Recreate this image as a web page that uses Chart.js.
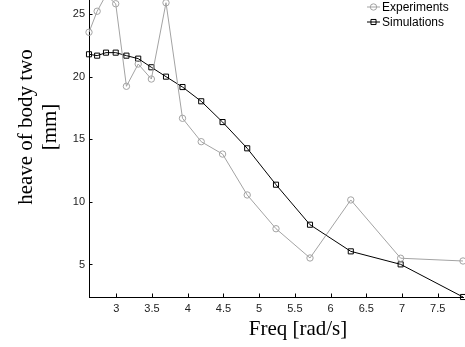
<!DOCTYPE html>
<html>
<head>
<meta charset="utf-8">
<script src="https://cdn.jsdelivr.net/npm/chart.js@4"></script>
<style>
  html, body { margin: 0; padding: 0; background: #fff; }
  #wrap { width: 465px; height: 347px; }
</style>
</head>
<body>
<div id="wrap"><canvas id="heave"></canvas></div>
<script>
// wave frequencies (rad/s)
const freq = [2.618, 2.732, 2.856, 2.992, 3.142, 3.307, 3.491, 3.696, 3.927, 4.189, 4.488, 4.833, 5.236, 5.712, 6.283, 6.981, 7.854];
// heave of body two [mm]
const experiments = [23.57, 25.25, 26.55, 25.85, 19.25, 21.03, 19.83, 25.93, 16.69, 14.82, 13.83, 10.56, 7.86, 5.52, 10.16, 5.50, 5.28];
const simulations = [21.81, 21.70, 21.94, 21.94, 21.70, 21.46, 20.77, 20.02, 19.19, 18.05, 16.39, 14.29, 11.38, 8.18, 6.05, 5.01, 2.40];

const xTicks = [3, 3.5, 4, 4.5, 5, 5.5, 6, 6.5, 7, 7.5];
const yTicks = [5, 10, 15, 20, 25];
const seriesNames = ['Experiments', 'Simulations'];

const toPoints = (xs, ys) => xs.map((x, i) => ({ x: x, y: ys[i] }));

// inward tick marks, axis titles and the legend
const extras = {
  id: 'extras',
  afterDatasetsDraw(chart) {
    const { ctx, chartArea: a, scales: { x, y } } = chart;
    ctx.save();
    ctx.strokeStyle = '#000';
    ctx.lineWidth = 1;
    ctx.beginPath();
    xTicks.forEach(v => {
      const px = Math.round(x.getPixelForValue(v)) + 0.5;
      ctx.moveTo(px, a.bottom);
      ctx.lineTo(px, a.bottom - 3.5);
    });
    yTicks.forEach(v => {
      const py = Math.round(y.getPixelForValue(v)) + 0.5;
      ctx.moveTo(a.left, py);
      ctx.lineTo(a.left + 3.5, py);
    });
    ctx.stroke();

    // axis titles
    ctx.fillStyle = '#000';
    ctx.font = '21px "Liberation Serif", "Times New Roman", serif';
    ctx.textAlign = 'center';
    ctx.textBaseline = 'alphabetic';
    ctx.fillText('Freq [rad/s]', 298, 335);
    ctx.save();
    ctx.translate(32, 127);
    ctx.rotate(-Math.PI / 2);
    ctx.fillText('heave of body two', 0, 0);
    ctx.fillText('[mm]', 0, 23.5);
    ctx.restore();

    // legend
    ctx.font = '12px "Liberation Sans", Arial, sans-serif';
    ctx.textAlign = 'left';
    ctx.textBaseline = 'middle';
    chart.data.datasets.forEach((ds, i) => {
      const ly = 7 + i * 15;
      ctx.strokeStyle = ds.borderColor;
      ctx.fillStyle = 'rgba(0,0,0,0)';
      ctx.lineWidth = 1;
      ctx.beginPath();
      ctx.moveTo(367, ly);
      ctx.lineTo(380, ly);
      ctx.stroke();
      Chart.helpers.drawPoint(ctx, {
        pointStyle: ds.pointStyle,
        radius: ds.pointRadius,
        borderWidth: 1
      }, 373.5, ly);
      ctx.fillStyle = '#000';
      ctx.fillText(ds.label, 382, ly + 0.5);
    });
    ctx.restore();
  }
};

const tickFont = { family: '"Liberation Sans", Arial, sans-serif', size: 11 };

new Chart(document.getElementById('heave'), {
  type: 'line',
  data: {
    datasets: [{
      label: seriesNames[0],
      data: toPoints(freq, experiments),
      borderColor: '#a3a3a3',
      backgroundColor: 'transparent',
      borderWidth: 1,
      pointStyle: 'circle',
      pointRadius: 3.2,
      pointBorderColor: '#a3a3a3',
      pointBackgroundColor: 'transparent',
      pointBorderWidth: 1,
      clip: { left: false, top: 0, right: false, bottom: false }
    }, {
      label: seriesNames[1],
      data: toPoints(freq, simulations),
      borderColor: '#000',
      backgroundColor: 'transparent',
      borderWidth: 1,
      pointStyle: 'rect',
      pointRadius: 3.6,
      pointBorderColor: '#000',
      pointBackgroundColor: 'transparent',
      pointBorderWidth: 1,
      clip: false
    }]
  },
  options: {
    responsive: true,
    maintainAspectRatio: false,
    animation: false,
    layout: { autoPadding: false, padding: { left: 0, right: 2, top: 0, bottom: 0 } },
    plugins: { legend: { display: false }, tooltip: { enabled: false } },
    elements: { line: { tension: 0 } },
    scales: {
      x: {
        type: 'linear',
        min: 2.618,
        max: 7.854,
        afterBuildTicks: s => { s.ticks = xTicks.map(v => ({ value: v })); },
        afterFit: s => { s.height = 50; s.paddingLeft = 0; s.paddingRight = 0; },
        grid: { display: false, drawTicks: false },
        border: { display: true, color: '#000', width: 1 },
        ticks: {
          padding: 5,
          color: '#222',
          font: tickFont,
          maxRotation: 0,
          autoSkip: false,
          callback: v => String(v)
        }
      },
      y: {
        type: 'linear',
        min: 2.4,
        max: 26.15,
        afterBuildTicks: s => { s.ticks = yTicks.map(v => ({ value: v })); },
        afterFit: s => { s.width = 89; s.paddingTop = 0; s.paddingBottom = 0; },
        grid: { display: false, drawTicks: false },
        border: { display: true, color: '#000', width: 1 },
        ticks: {
          padding: 4,
          color: '#222',
          font: tickFont,
          autoSkip: false,
          callback: v => String(v)
        }
      }
    }
  },
  plugins: [extras]
});
</script>
</body>
</html>
